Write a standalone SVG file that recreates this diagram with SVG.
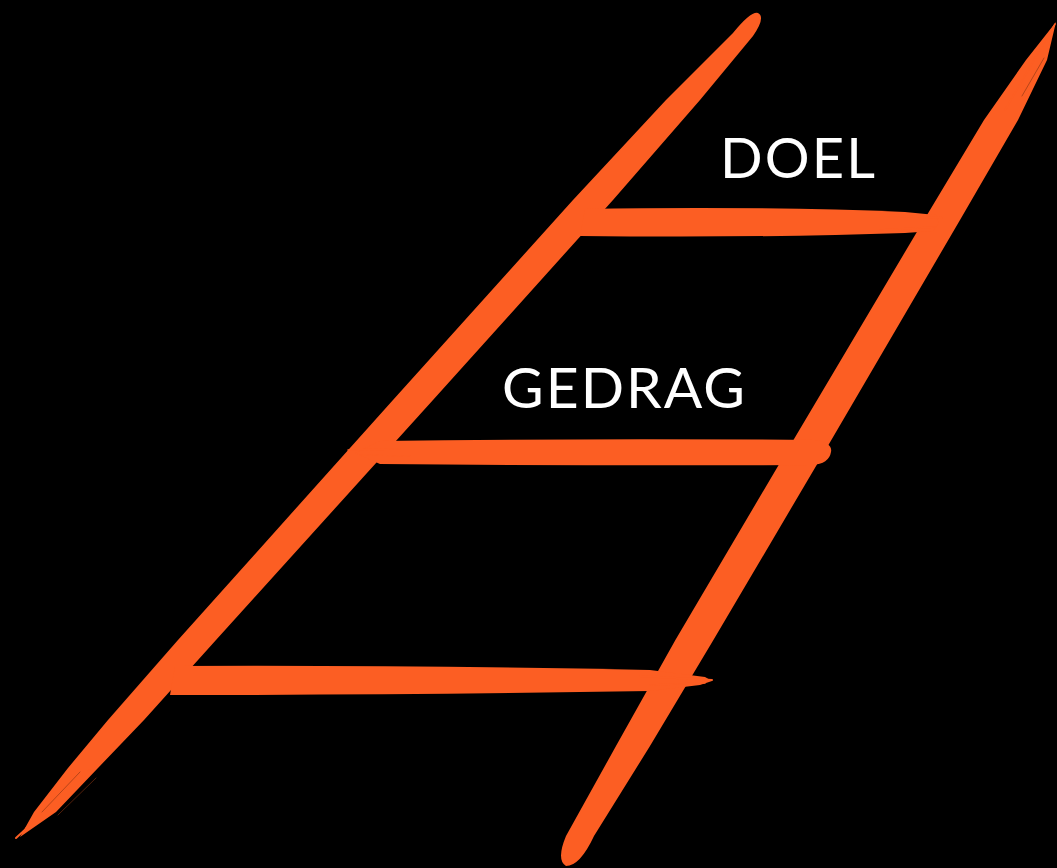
<svg xmlns="http://www.w3.org/2000/svg" width="1057" height="868" viewBox="0 0 1057 868">
<style>
.paint{fill:#FC5E23}
.strand{fill:none;stroke:#FC5E23;stroke-linecap:round}
.dark{fill:none;stroke:#8A3512;stroke-linecap:round;stroke-width:1;opacity:0.6}
.label{fill:#FFFFFF;font-family:Lato,"Open Sans","Liberation Sans",sans-serif;font-weight:400}
</style>
<rect x="0" y="0" width="1057" height="868" fill="#000000"/>
<g id="ladder">
<g id="rails">
<g id="left-rail">
<path class="paint" d="M758,13 Q766,17 753,36 L700,100 L613,200 L433,400 L216,640 L144,720 L98,768 L56,812 L20,837 L34,812 L68,768 L108,720 L178,640 L393,400 L573,200 L666,100 L733,33 Q751,11 758,13 Z"/>
<path class="strand" stroke-width="2" d="M90,770 L16,838"/>
<path class="strand" stroke-width="1.4" d="M76,778 L26,828"/>
<path class="dark" d="M96,778 L58,815"/>
<path class="dark" d="M80,772 L42,812"/>
</g>
<g id="right-rail">
<path class="paint" d="M1056,22 L1047,60 L1018,120 L960,220 L825.5,450 L713.4,640 L650,746 L594,836 Q580,866 566,866 Q556,860 566,836 L616,746 L675.4,640 L787.5,450 L924,220 L984,120 L1026,60 Z"/>
<path class="strand" stroke-width="1.5" d="M1055,24 L1005,110"/>
<path class="dark" d="M1044,58 L1022,96"/>
</g>
</g>
<g id="rungs">
<g id="rung-top">
<path class="paint" d="M585,209 Q760,206 905,212 L936,215 L939,223 L933,231 L905,233 Q760,238 580,236 Z"/>
<path class="strand" stroke-width="2" d="M880,215 L942,218"/>
<path class="strand" stroke-width="1.5" d="M880,230 L936,227"/>
</g>
<g id="rung-middle">
<path class="paint" d="M380,441 Q600,438 815,440 Q833,443 831,452 Q829,464 812,465 Q600,466 380,464 L355,453 Z"/>
<path class="strand" stroke-width="1.5" d="M348,450 L400,449"/>
<path class="strand" stroke-width="1.2" d="M360,455 L410,456"/>
</g>
<g id="rung-bottom">
<path class="paint" d="M175,666 Q420,665 650,670 L705,677 L712,681 L700,685 L650,691 Q420,695 170,695 Z"/>
<path class="strand" stroke-width="2" d="M640,676 L712,680"/>
<path class="strand" stroke-width="1.5" d="M650,685 L705,683"/>
</g>
</g>
</g>
<g id="labels">
<text id="label-doel" class="label" x="720" y="178" font-size="56" textLength="155" lengthAdjust="spacing">DOEL</text>
<text id="label-gedrag" class="label" x="502" y="408" font-size="57" textLength="243" lengthAdjust="spacing">GEDRAG</text>
</g>
</svg>
